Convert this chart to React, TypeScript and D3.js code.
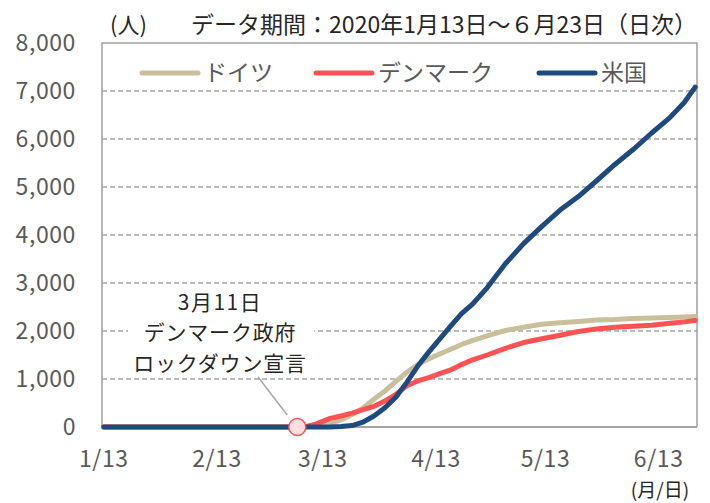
import { useEffect, useRef } from "react"
import * as d3 from "d3"

const dates = [
  "2020-01-13", "2020-03-08", "2020-03-11", "2020-03-15", "2020-03-18", "2020-03-21",
  "2020-03-24", "2020-03-27", "2020-03-30", "2020-04-02", "2020-04-05", "2020-04-08",
  "2020-04-11", "2020-04-14", "2020-04-17", "2020-04-20", "2020-04-23", "2020-04-27",
  "2020-05-02", "2020-05-07", "2020-05-12", "2020-05-17", "2020-05-22", "2020-05-27",
  "2020-06-01", "2020-06-06", "2020-06-11", "2020-06-16", "2020-06-20", "2020-06-23",
]
const germany = [
  0, 0, 20, 80, 150, 260, 390, 580, 750, 950, 1140, 1300, 1420, 1520, 1620,
  1720, 1800, 1900, 2010, 2080, 2140, 2170, 2200, 2230, 2240, 2260, 2270, 2280, 2290, 2300,
]
const denmark = [
  0, 0, 60, 180, 230, 290, 360, 430, 540, 680, 860, 960, 1030, 1110, 1190,
  1300, 1400, 1500, 1640, 1760, 1840, 1910, 1990, 2040, 2080, 2100, 2120, 2160, 2190, 2220,
]
const usa = [
  0, 0, 0, 0, 10, 30, 100, 230, 400, 620, 930, 1270, 1560, 1830, 2100,
  2360, 2560, 2900, 3400, 3820, 4180, 4520, 4800, 5130, 5470, 5780, 6120, 6440, 6760, 7080,
]
const seriesNames = ["ドイツ", "デンマーク", "米国"]
const seriesColors = ["#c9bf9b", "#ff5252", "#1f4a7e"]
const yTicks = [0, 1000, 2000, 3000, 4000, 5000, 6000, 7000, 8000]
const xTickDates = ["2020-01-13", "2020-02-13", "2020-03-13", "2020-04-13", "2020-05-13", "2020-06-13"]
const markerDate = "2020-03-06"
const noteLines = ["3月11日", "デンマーク政府", "ロックダウン宣言"]

const FONT = "'Noto Sans CJK JP', 'Noto Sans', sans-serif"

const App = () => {
  const svgRef = useRef<SVGSVGElement>(null)

  useEffect(() => {
    const svg = d3.select(svgRef.current)
    svg.selectAll("*").remove()

    const parse = d3.utcParse("%Y-%m-%d")
    const dayMs = 86400000
    const start = parse(dates[0])!
    const end = parse(dates[dates.length - 1])!

    const left = 102, right = 697, top = 43, bottom = 427

    // each day is one category, points sit in the middle of it
    const x = d3.scaleUtc()
      .domain([new Date(+start - dayMs / 2), new Date(+end + dayMs / 2)])
      .range([left, right])
    const y = d3.scaleLinear().domain([0, 8000]).range([bottom, top])

    // gridlines
    svg.append("g")
      .selectAll("line")
      .data(yTicks.filter(t => t > 0 && t < 8000))
      .enter()
      .append("line")
      .attr("x1", left)
      .attr("x2", right)
      .attr("y1", d => y(d))
      .attr("y2", d => y(d))
      .attr("stroke", "#a6a6a6")
      .attr("stroke-width", 1.5)
      .attr("stroke-dasharray", "5,3")

    // plot frame
    svg.append("path")
      .attr("d", `M${left},${bottom}V${top}H${right}V${bottom}`)
      .attr("fill", "none")
      .attr("stroke", "#a0a0a0")
      .attr("stroke-width", 1.5)
    svg.append("line")
      .attr("x1", left).attr("x2", right)
      .attr("y1", bottom).attr("y2", bottom)
      .attr("stroke", "#a6a6a6")
      .attr("stroke-width", 2)

    // y tick labels
    svg.append("g")
      .selectAll("text")
      .data(yTicks)
      .enter()
      .append("text")
      .attr("x", 76)
      .attr("y", d => y(d))
      .attr("dy", "0.36em")
      .attr("text-anchor", "end")
      .attr("font-family", FONT)
      .attr("font-size", 23)
      .attr("letter-spacing", 0.6)
      .attr("fill", "#595959")
      .text(d => d3.format(",")(d))

    // x tick labels
    svg.append("g")
      .selectAll("text")
      .data(xTickDates)
      .enter()
      .append("text")
      .attr("x", d => x(parse(d)!))
      .attr("y", 467)
      .attr("text-anchor", "middle")
      .attr("font-family", FONT)
      .attr("font-size", 23)
      .attr("letter-spacing", 0.6)
      .attr("fill", "#595959")
      .text(d => { const t = parse(d)!; return `${t.getUTCMonth() + 1}/${t.getUTCDate()}` })

    svg.append("text")
      .attr("x", 660).attr("y", 496.5)
      .attr("text-anchor", "middle")
      .attr("font-family", FONT).attr("font-size", 19)
      .attr("fill", "#262626")
      .text("(月/日)")

    // titles
    svg.append("text")
      .attr("x", 110).attr("y", 33)
      .attr("font-family", FONT).attr("font-size", 22)
      .attr("fill", "#262626")
      .text("(人)")
    svg.append("text")
      .attr("x", 697).attr("y", 33)
      .attr("text-anchor", "end")
      .attr("font-family", FONT).attr("font-size", 23)
      .attr("fill", "#262626")
      .text("データ期間：2020年1月13日～６月23日（日次）")

    // annotation
    svg.append("rect")
      .attr("x", 128).attr("y", 289)
      .attr("width", 186).attr("height", 84)
      .attr("fill", "#fff")
    svg.append("g")
      .selectAll("text")
      .data(noteLines)
      .enter()
      .append("text")
      .attr("x", 220)
      .attr("y", (d, i) => 302 + i * 30.5)
      .attr("dy", "0.36em")
      .attr("text-anchor", "middle")
      .attr("font-family", FONT)
      .attr("font-size", 21)
      .attr("letter-spacing", (d, i) => (i === 0 ? 1.5 : 0.8))
      .attr("fill", "#262626")
      .text(d => d)
    svg.append("line")
      .attr("x1", 258).attr("y1", 377)
      .attr("x2", x(parse(markerDate)!) - 10).attr("y2", y(0) - 12)
      .attr("stroke", "#a6a6a6")
      .attr("stroke-width", 1.5)

    // series lines
    const values = [germany, denmark, usa]
    const line = d3.line<number>()
      .x((d, i) => x(parse(dates[i])!))
      .y(d => y(d))
    values.forEach((vals, k) => {
      svg.append("path")
        .datum(vals)
        .attr("fill", "none")
        .attr("stroke", seriesColors[k])
        .attr("stroke-width", 5)
        .attr("stroke-linejoin", "round")
        .attr("stroke-linecap", "round")
        .attr("d", line)
    })

    // lockdown marker
    svg.append("circle")
      .attr("cx", x(parse(markerDate)!))
      .attr("cy", y(0))
      .attr("r", 8.5)
      .attr("fill", "#ffdfdf")
      .attr("stroke", "#ff5252")
      .attr("stroke-width", 1.5)

    // legend
    const legendX = [142, 316, 539]
    const legend = svg.selectAll(".legend")
      .data(seriesNames)
      .enter()
      .append("g")
      .attr("class", "legend")
      .attr("transform", (d, i) => `translate(${legendX[i]}, 73)`)
    legend.append("line")
      .attr("x1", 0).attr("x2", 56)
      .attr("stroke", (d, i) => seriesColors[i])
      .attr("stroke-width", 5)
      .attr("stroke-linecap", "round")
    legend.append("text")
      .attr("x", 62)
      .attr("dy", "0.36em")
      .attr("font-family", FONT)
      .attr("font-size", 23)
      .attr("fill", "#595959")
      .text(d => d)
  }, [])

  return (
    <svg ref={svgRef} width={710} height={503}
      style={{ position: "absolute", left: 0, top: 0, background: "#fff" }}>
    </svg>
  )
}

export default App
